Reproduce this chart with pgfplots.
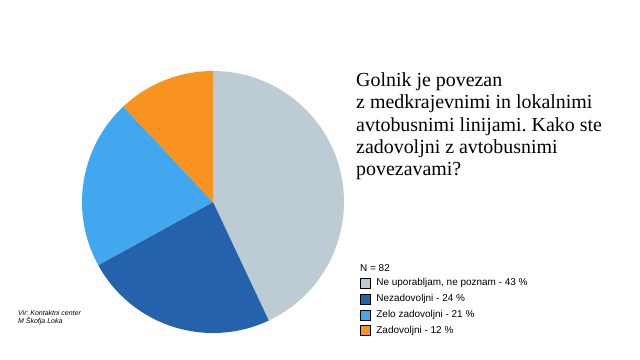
\documentclass[border=0pt]{standalone}
\usepackage{pgfplots}
\usepackage{pgfplotstable}
\pgfplotsset{compat=1.18}
\usepackage{fontspec}
\setmainfont{Liberation Sans}
\newfontfamily\titlefont{Liberation Serif}
\definecolor{cgray}{HTML}{BDCCD4}
\definecolor{cdark}{HTML}{2463AB}
\definecolor{clight}{HTML}{41A8EF}
\definecolor{corange}{HTML}{F7931E}
\pgfplotstableread{
value color
43 cgray
24 cdark
21 clight
12 corange
}\piedata
\begin{document}
\frenchspacing
\begin{tikzpicture}
\path[use as bounding box] (0,0) rectangle (640bp,360bp);
\begin{axis}[at={(213bp,158bp)}, anchor=origin, x=131bp, y=131bp,
  xmin=-1, xmax=1, ymin=-1, ymax=1, hide axis, clip=false,
  legend style={draw=none, fill=none, at={(1.0611,0.2088)}, anchor=north west,
    font=\fontsize{10}{12}\selectfont, inner sep=0pt, outer sep=0pt, row sep=5.3bp,
    nodes={inner sep=0pt, text height=7.5bp, text depth=2.5bp},
    /tikz/every odd column/.style={column sep=6bp}},
  legend cell align=left,
  legend image code/.code={\fill[#1] (0bp,-5bp) rectangle (10bp,5bp);}]
\def\startang{90}
\pgfplotsforeachungrouped \i in {0,1,2,3}{%
  \pgfplotstablegetelem{\i}{value}\of\piedata
  \let\val\pgfplotsretval
  \pgfplotstablegetelem{\i}{color}\of\piedata
  \let\col\pgfplotsretval
  \pgfmathsetmacro{\endang}{\startang-3.6*\val}%
  \edef\temp{\noexpand\fill[\col] (axis cs:0,0) -- (axis cs:{cos(\startang)},{sin(\startang)}) arc[start angle=\startang, end angle=\endang, radius=1] -- cycle;}%
  \temp
  \global\let\startang\endang
}
\addlegendimage{fill=cgray}
\addlegendentry{Ne uporabljam, ne poznam - 43 \%}
\addlegendimage{fill=cdark}
\addlegendentry{Nezadovoljni - 24 \%}
\addlegendimage{fill=clight}
\addlegendentry{Zelo zadovoljni - 21 \%}
\addlegendimage{fill=corange}
\addlegendentry{Zadovoljni - 12 \%}
\end{axis}
\node[anchor=base west, inner sep=0pt, font=\fontsize{10}{12}\selectfont] at (360bp,88.9bp) {N = 82};
\node[anchor=base west, inner sep=0pt, align=left, font=\titlefont\fontsize{20}{22.5}\selectfont] at (356bp,184bp) {Golnik je povezan\\z medkrajevnimi in lokalnimi\\avtobusnimi linijami. Kako ste\\zadovoljni z avtobusnimi\\povezavami?};
\node[anchor=base west, inner sep=0pt, align=left, font=\itshape\fontsize{7}{8}\selectfont] at (18bp,36.5bp) {Vir: Kontaktni center\\M Škofja Loka};
\end{tikzpicture}
\end{document}
